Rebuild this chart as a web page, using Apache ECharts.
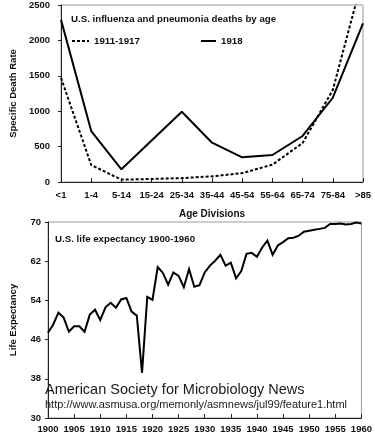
<!DOCTYPE html>
<html>
<head>
<meta charset="utf-8">
<script src="https://cdn.jsdelivr.net/npm/echarts@6/dist/echarts.min.js"></script>
<style>
  html, body { margin: 0; padding: 0; background: #fff; }
  #chart { width: 375px; height: 445px; }
</style>
</head>
<body>
<div id="chart"></div>
<script>
// top panel: influenza and pneumonia deaths by age
const ageGroups = ["<1", "1-4", "5-14", "15-24", "25-34", "35-44", "45-54", "55-64", "65-74", "75-84", ">85"];
const deaths1911to1917 = [1470, 240, 33, 43, 55, 80, 125, 245, 550, 1300, 2900];
const deaths1918 = [2290, 720, 180, 585, 993, 555, 349, 381, 650, 1190, 2240];
const deathTicks = [0, 500, 1000, 1500, 2000, 2500];

// bottom panel: life expectancy
const years = [
  1900, 1901, 1902, 1903, 1904, 1905, 1906, 1907, 1908, 1909,
  1910, 1911, 1912, 1913, 1914, 1915, 1916, 1917, 1918, 1919,
  1920, 1921, 1922, 1923, 1924, 1925, 1926, 1927, 1928, 1929,
  1930, 1931, 1932, 1933, 1934, 1935, 1936, 1937, 1938, 1939,
  1940, 1941, 1942, 1943, 1944, 1945, 1946, 1947, 1948, 1949,
  1950, 1951, 1952, 1953, 1954, 1955, 1956, 1957, 1958, 1959, 1960
];
const lifeExpectancy = [
  47.4, 49.1, 51.5, 50.5, 47.6, 48.7, 48.7, 47.6, 51.1, 52.1,
  50.0, 52.6, 53.5, 52.5, 54.2, 54.5, 51.7, 50.9, 39.2, 54.7,
  54.1, 60.8, 59.6, 57.2, 59.7, 59.0, 56.7, 60.4, 56.8, 57.1,
  59.7, 61.1, 62.1, 63.3, 61.1, 61.7, 58.5, 60.0, 63.5, 63.7,
  62.9, 64.8, 66.2, 63.3, 65.2, 65.9, 66.7, 66.8, 67.2, 68.0,
  68.2, 68.4, 68.6, 68.8, 69.6, 69.6, 69.7, 69.5, 69.6, 69.9, 69.7
];

const FONT = "'Liberation Sans', Arial, Helvetica, sans-serif";
const INK = "#111";
const FRAME = "#9a9a9a";

const boldLabel = { color: INK, fontFamily: FONT, fontWeight: "bold", fontSize: 9.5 };
const headText = { color: INK, fontFamily: FONT, fontWeight: "bold", fontSize: 9.7 };

const chart = echarts.init(document.getElementById("chart"));

chart.setOption({
  backgroundColor: "#fff",
  animation: false,
  title: [
    { text: "U.S. influenza and pneumonia deaths by age", left: 66, top: 9, textStyle: headText },
    { text: "U.S. life expectancy 1900-1960", left: 50, top: 229, textStyle: headText }
  ],
  legend: [
    {
      left: 66, top: 31,
      itemWidth: 17, itemHeight: 10, itemGap: 8,
      data: ["1911-1917"],
      itemStyle: { opacity: 0 },
      textStyle: headText
    },
    {
      left: 195, top: 31,
      itemWidth: 15, itemHeight: 10,
      data: ["1918"],
      itemStyle: { opacity: 0 },
      textStyle: headText
    }
  ],
  grid: [
    { left: 53, right: 12, top: 5, height: 177, show: true, borderColor: FRAME, borderWidth: 1 },
    { left: 42, right: 12, top: 222, height: 196, show: true, borderColor: FRAME, borderWidth: 1 }
  ],
  xAxis: [
    {
      gridIndex: 0,
      type: "category",
      data: ageGroups,
      boundaryGap: false,
      name: "Age Divisions",
      nameLocation: "middle",
      nameGap: 27,
      nameTextStyle: { color: INK, fontFamily: FONT, fontWeight: "bold", fontSize: 10 },
      axisLine: { lineStyle: { color: "#222", width: 1 } },
      axisTick: { inside: true, length: 4, lineStyle: { color: "#222" } },
      axisLabel: Object.assign({ margin: 8, interval: 0 }, boldLabel),
      splitLine: { show: false }
    },
    {
      gridIndex: 1,
      type: "value",
      min: 1900, max: 1960, interval: 5,
      axisLine: { lineStyle: { color: "#222", width: 1 } },
      axisTick: { inside: true, length: 4, lineStyle: { color: "#222" } },
      axisLabel: Object.assign({ margin: 6, formatter: (v) => String(v) }, boldLabel),
      splitLine: { show: false }
    }
  ],
  yAxis: [
    {
      gridIndex: 0,
      type: "value",
      min: deathTicks[0], max: deathTicks[deathTicks.length - 1], interval: 500,
      name: "Specific Death Rate",
      nameLocation: "middle",
      nameGap: 41,
      nameTextStyle: { color: INK, fontFamily: FONT, fontWeight: "bold", fontSize: 9.5 },
      axisLine: { show: true, lineStyle: { color: "#222", width: 1 } },
      axisTick: { show: true, length: 3, lineStyle: { color: "#222" } },
      axisLabel: Object.assign({ margin: 11, formatter: (v) => String(v) }, boldLabel),
      splitLine: { show: false }
    },
    {
      gridIndex: 1,
      type: "value",
      min: 30, max: 70, interval: 8,
      name: "Life Expectancy",
      nameLocation: "middle",
      nameGap: 30,
      nameTextStyle: { color: INK, fontFamily: FONT, fontWeight: "bold", fontSize: 9.5 },
      axisLine: { show: true, lineStyle: { color: "#222", width: 1 } },
      axisTick: { show: true, length: 3, lineStyle: { color: "#222" } },
      axisLabel: Object.assign({ margin: 7 }, boldLabel),
      splitLine: { show: false }
    }
  ],
  series: [
    {
      name: "1911-1917",
      type: "line",
      xAxisIndex: 0, yAxisIndex: 0,
      data: deaths1911to1917,
      symbol: "none",
      clip: true,
      lineStyle: { color: "#000", width: 2, type: [3, 2] },
      itemStyle: { color: "#000" }
    },
    {
      name: "1918",
      type: "line",
      xAxisIndex: 0, yAxisIndex: 0,
      data: deaths1918,
      symbol: "none",
      lineStyle: { color: "#000", width: 2 },
      itemStyle: { color: "#000" }
    },
    {
      name: "Life expectancy",
      type: "line",
      xAxisIndex: 1, yAxisIndex: 1,
      data: years.map((y, i) => [y, lifeExpectancy[i]]),
      symbol: "none",
      lineStyle: { color: "#000", width: 2, join: "miter" },
      itemStyle: { color: "#000" }
    }
  ],
  graphic: [
    {
      type: "text",
      left: 45, top: 382,
      style: {
        text: "American Society for Microbiology News",
        fill: "#1a1a1a",
        font: "14.5px " + FONT
      }
    },
    {
      type: "text",
      left: 45, top: 399,
      style: {
        text: "http://www.asmusa.org/memonly/asmnews/jul99/feature1.html",
        fill: "#1a1a1a",
        font: "11px " + FONT
      }
    }
  ]
});
</script>
</body>
</html>
